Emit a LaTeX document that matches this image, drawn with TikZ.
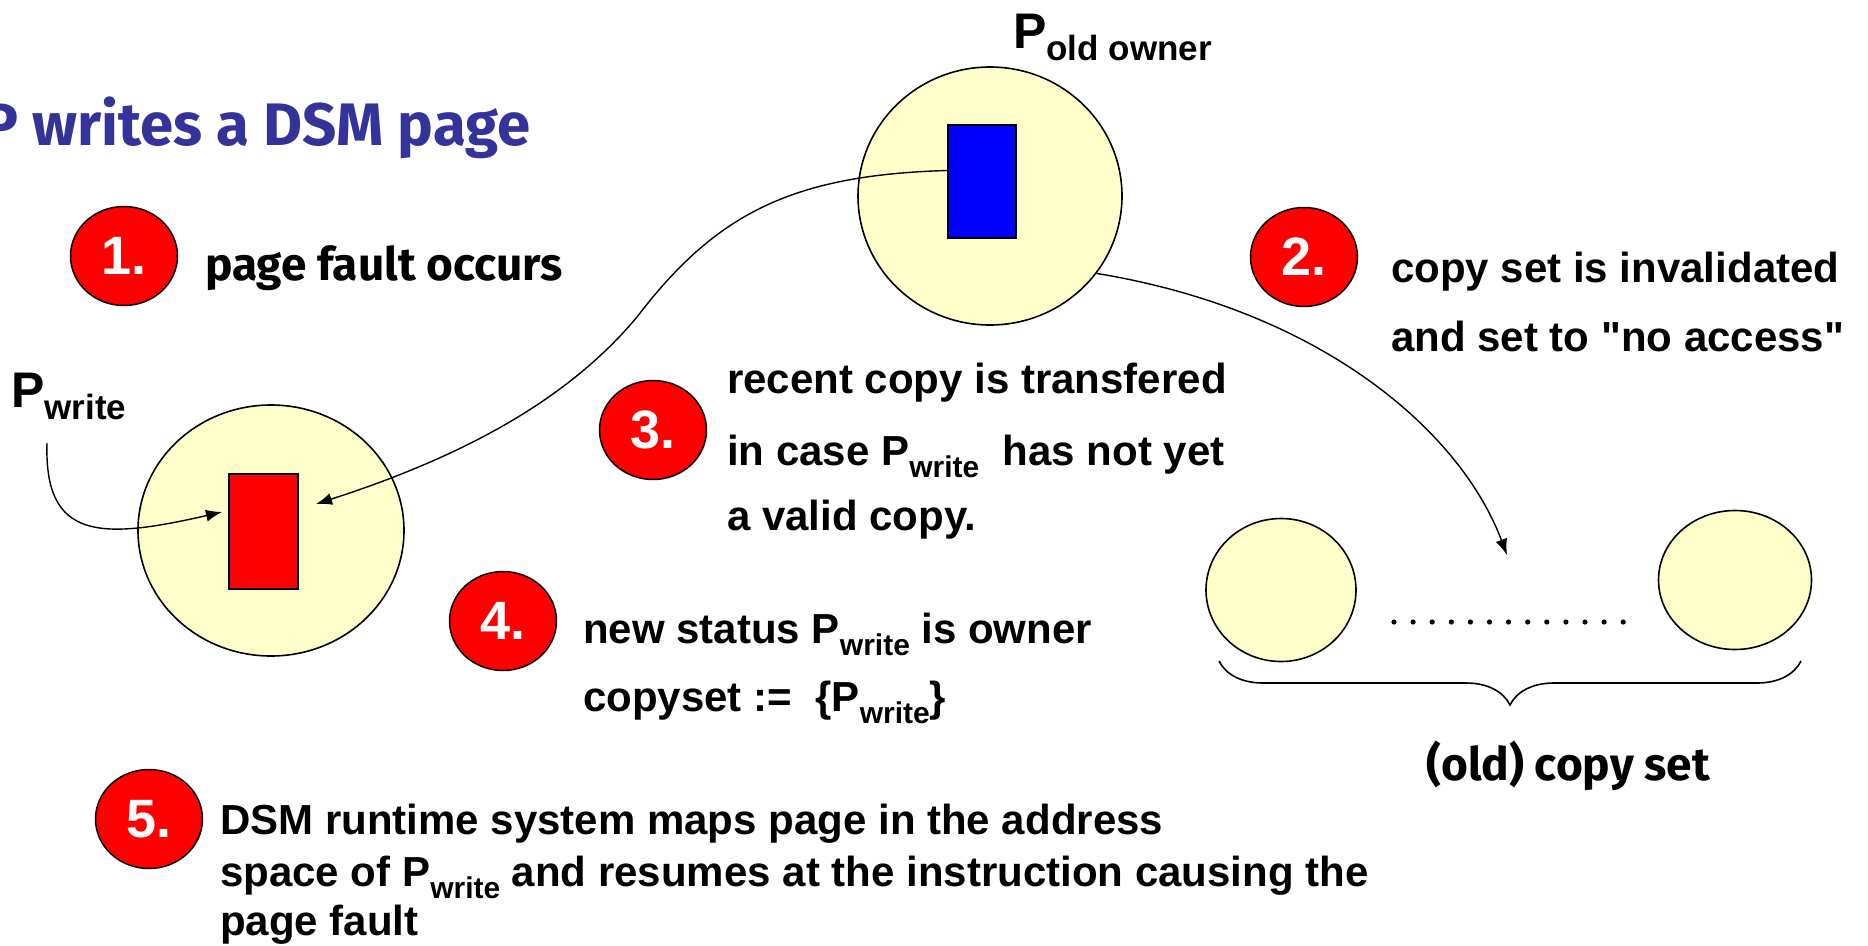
\documentclass[tikz,border=0pt]{standalone}
\usepackage{fontspec}
\setmainfont{Liberation Sans}[Ligatures=TeXOff]
\newfontfamily\handfont{Fira Sans}
\usetikzlibrary{arrows.meta,shapes.geometric,decorations.pathreplacing}

\definecolor{procfill}{HTML}{FFFFCC}
\definecolor{titleblue}{HTML}{333399}

% font size helper and lowered subscript
\newcommand{\fsz}[1]{\fontsize{#1}{#1}\selectfont}
\newcommand{\lowsub}[2][30]{\raisebox{-12pt}{\fsz{#1}#2}}

\begin{document}
\begin{tikzpicture}[x=1pt,y=-1pt,
  proc/.style={ellipse, draw, line width=1.6pt, fill=procfill, inner sep=0pt},
  pagebox/.style={rectangle, draw, line width=1.6pt, inner sep=0pt},
  stepnum/.style={ellipse, draw, line width=1.5pt, fill=red, text=white,
    font=\fsz{54}\bfseries, minimum width=107pt, minimum height=99pt, inner sep=0pt},
  body/.style={anchor=base west, inner sep=0pt, font=\fsz{42}\bfseries},
  hand/.style={anchor=base west, inner sep=0pt, font=\handfont\fsz{46}\bfseries},
  biglbl/.style={anchor=base west, inner sep=0pt, font=\fsz{50}\bfseries},
  conn/.style={line width=1.4pt, -{Latex[length=16pt,width=12pt]}}
]
\useasboundingbox (0,0) rectangle (1868,945);
\clip (0,0) rectangle (1868,945);

% title
\node[hand, text=titleblue, font=\handfont\fsz{60}\bfseries] (title) at (-18,145) {P writes a DSM page};

% processes
\node[proc, minimum width=264pt, minimum height=258pt] (old) at (990,196) {};
\node[pagebox, fill=blue, minimum width=68pt, minimum height=113pt] (blue) at (982,181.5) {};
\node[biglbl] (oldlbl) at (1013,48) {P\lowsub[35]{old owner}};

\node[proc, minimum width=266pt, minimum height=251pt] (pw) at (271,530.5) {};
\node[pagebox, fill=red, minimum width=69pt, minimum height=115pt] (red) at (263.5,531.5) {};
\node[biglbl] (pwlbl) at (11,407) {P\lowsub[35]{write}};

% old copy set
\node[proc, minimum width=150pt, minimum height=143pt] (cs1) at (1281,590) {};
\node[proc, minimum width=153pt, minimum height=139pt] (cs2) at (1735,580) {};
\foreach \i in {0,...,12} \fill (1394+\i*19.1,622) circle (2.6pt);
\draw[line width=1.6pt, decorate, decoration={brace, amplitude=44pt}] (1801,661) -- (1219,661);
\node[hand] (cslbl) at (1426,780) {(old) copy set};

% numbered steps
\node[stepnum] (n1) at (124,256) {1.};
\node[hand] (t1) at (205,280) {page fault occurs};

\node[stepnum] (n2) at (1304,257) {2.};
\node[body] (t2a) at (1391,282) {copy set is invalidated};
\node[body] (t2b) at (1391,351) {and set to "no access"};

\node[stepnum] (n3) at (653,430) {3.};
\node[body] (t3a) at (727,393) {recent copy is transfered};
\node[body] (t3b) at (727,465) {in case P\lowsub{write}\ \ has not yet};
\node[body] (t3c) at (727,530) {a valid copy.};

\node[stepnum] (n4) at (503,621) {4.};
\node[body] (t4a) at (583,643) {new status P\lowsub{write} is owner};
\node[body] (t4b) at (583,711) {copyset :=\ \ \{P\lowsub{write}\}};

\node[stepnum] (n5) at (149,819) {5.};
\node[body] (t5a) at (220,834) {DSM runtime system maps page in the address};
\node[body] (t5b) at (220,886) {space of P\lowsub{write} and resumes at the instruction causing the};
\node[body] (t5c) at (220,935) {page fault};

% connectors
\coordinate (pwtail) at (47,443);
\coordinate (pwtip) at (222,512);
\draw[conn] (pwtail) .. controls (44,540) and (100,540) .. (pwtip);

\coordinate (bend) at (637,317);
\coordinate (redtip) at (316,504);
\draw[conn] ([yshift=11pt]blue.west) .. controls (790,175) and (715,215) .. (bend)
  .. controls (580,385) and (490,448) .. (redtip);

\coordinate (csin) at (1507,555);
\draw[conn] (old.-36) .. controls (1320,310) and (1460,430) .. (csin);
\end{tikzpicture}
\end{document}
